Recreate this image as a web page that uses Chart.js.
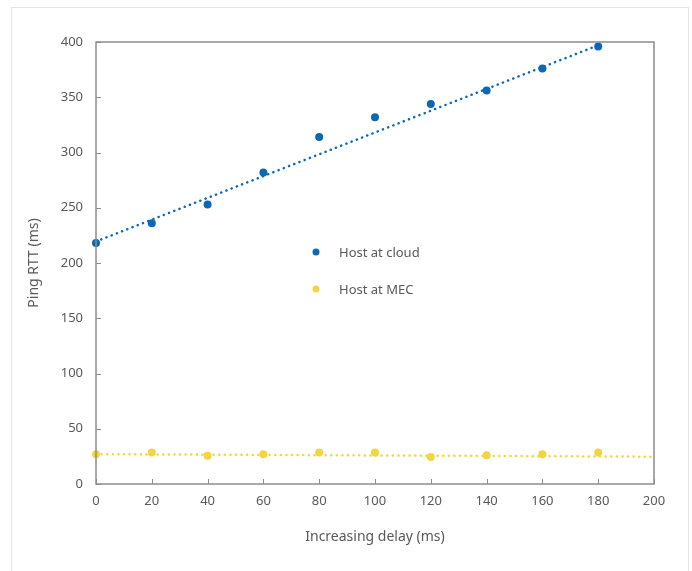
<!DOCTYPE html>
<html>
<head>
<meta charset="utf-8">
<script src="https://cdn.jsdelivr.net/npm/chart.js@4/dist/chart.umd.min.js"></script>
<style>
  html, body { margin: 0; padding: 0; background: #fff; }
  #wrap { position: relative; width: 692px; height: 571px; }
  #frame { position: absolute; left: 11px; top: 7px; width: 678px; height: 580px; border: 1px solid #e4e4e4; box-sizing: border-box; }
  canvas { position: absolute; left: 0; top: 0; }
</style>
</head>
<body>
<div id="wrap">
  <div id="frame"></div>
  <canvas id="pingChart" width="692" height="571"></canvas>
</div>
<script>
const delays = [0, 20, 40, 60, 80, 100, 120, 140, 160, 180]
const cloudRtt = [218, 236, 253, 282, 314, 332, 344, 356, 376, 396]
const mecRtt = [27, 28.5, 25.5, 27, 28.5, 28.5, 24.5, 26, 27, 28.5]
// trendline end points
const cloudTrendX = [0, 180]
const cloudTrendY = [219.5, 397]
const mecTrendX = [0, 200]
const mecTrendY = [27, 24.7]
const xTicks = [0, 20, 40, 60, 80, 100, 120, 140, 160, 180, 200]
const yTicks = [0, 50, 100, 150, 200, 250, 300, 350, 400]

const blue = "rgb(10, 104, 182)"
const yellow = "rgb(243, 213, 64)"
const textGray = "#595959"
const fontFamily = "'Noto Sans', 'Open Sans', sans-serif"

function toPoints(xs, ys) {
    return xs.map((x, i) => ({x: x, y: ys[i]}))
}

// small tick marks drawn inside the plot, plus the plot frame
const innerTicks = {
    id: 'innerTicks',
    afterDraw(chart) {
        const {ctx, chartArea: a, scales} = chart
        ctx.save()
        ctx.strokeStyle = "#8c8c8c"
        ctx.lineWidth = 1.5
        ctx.strokeRect(a.left, a.top, a.right - a.left, a.bottom - a.top)
        ctx.lineWidth = 1
        ctx.beginPath()
        xTicks.forEach(v => {
            const px = Math.round(scales.x.getPixelForValue(v)) + 0.5
            ctx.moveTo(px, a.bottom)
            ctx.lineTo(px, a.bottom - 5)
        })
        yTicks.forEach(v => {
            const py = Math.round(scales.y.getPixelForValue(v)) + 0.5
            ctx.moveTo(a.left, py)
            ctx.lineTo(a.left + 5, py)
        })
        ctx.stroke()
        ctx.restore()
    }
}

// legend sitting inside the plot area
const innerLegend = {
    id: 'innerLegend',
    afterDraw(chart) {
        const {ctx} = chart
        const items = chart.data.datasets.filter(d => !d.isTrend)
        ctx.save()
        ctx.font = "13px " + fontFamily
        ctx.textBaseline = "middle"
        items.forEach((d, i) => {
            const y = 252 + i * 37
            ctx.fillStyle = d.backgroundColor
            ctx.beginPath()
            ctx.arc(316, y, 3.5, 0, Math.PI * 2)
            ctx.fill()
            ctx.fillStyle = textGray
            ctx.fillText(d.label, 339, y + 1)
        })
        ctx.restore()
    }
}

const ctx = document.getElementById('pingChart').getContext('2d')

new Chart(ctx, {
    type: 'scatter',
    data: {
        datasets: [{
            label: "Host at cloud",
            data: toPoints(delays, cloudRtt),
            backgroundColor: blue,
            borderColor: blue,
            pointRadius: 4,
            pointBorderWidth: 0,
            clip: false,
        }, {
            label: "Host at MEC",
            data: toPoints(delays, mecRtt),
            backgroundColor: yellow,
            borderColor: yellow,
            pointRadius: 4,
            pointBorderWidth: 0,
            clip: false,
        }, {
            label: "cloud trend",
            isTrend: true,
            type: 'line',
            data: toPoints(cloudTrendX, cloudTrendY),
            borderColor: blue,
            backgroundColor: blue,
            borderWidth: 2.5,
            borderDash: [0.1, 5.5],
            borderCapStyle: 'round',
            pointRadius: 0,
            fill: false,
        }, {
            label: "MEC trend",
            isTrend: true,
            type: 'line',
            data: toPoints(mecTrendX, mecTrendY),
            borderColor: yellow,
            backgroundColor: yellow,
            borderWidth: 2.5,
            borderDash: [0.1, 5.5],
            borderCapStyle: 'round',
            pointRadius: 0,
            fill: false,
        }]
    },
    options: {
        responsive: false,
        animation: false,
        layout: {
            padding: {top: 42, right: 38, left: 0, bottom: 0}
        },
        plugins: {
            legend: {display: false},
            tooltip: {enabled: false},
        },
        scales: {
            x: {
                type: 'linear',
                min: 0,
                max: 200,
                afterBuildTicks: s => { s.ticks = xTicks.map(v => ({value: v})) },
                afterFit: s => { s.height = 87 },
                grid: {display: false, drawTicks: false},
                border: {display: false},
                ticks: {
                    color: textGray,
                    padding: 9,
                    font: {family: fontFamily, size: 13},
                },
                title: {
                    display: true,
                    text: "Increasing delay (ms)",
                    color: textGray,
                    font: {family: fontFamily, size: 14},
                    padding: {bottom: 26},
                }
            },
            y: {
                min: 0,
                max: 400,
                afterBuildTicks: s => { s.ticks = yTicks.map(v => ({value: v})) },
                afterFit: s => { s.width = 96 },
                grid: {display: false, drawTicks: false},
                border: {display: false},
                ticks: {
                    color: textGray,
                    padding: 13,
                    font: {family: fontFamily, size: 13},
                },
                title: {
                    display: true,
                    text: "Ping RTT (ms)",
                    color: textGray,
                    font: {family: fontFamily, size: 14},
                    padding: {top: 26},
                }
            }
        }
    },
    plugins: [innerTicks, innerLegend]
})
</script>
</body>
</html>
